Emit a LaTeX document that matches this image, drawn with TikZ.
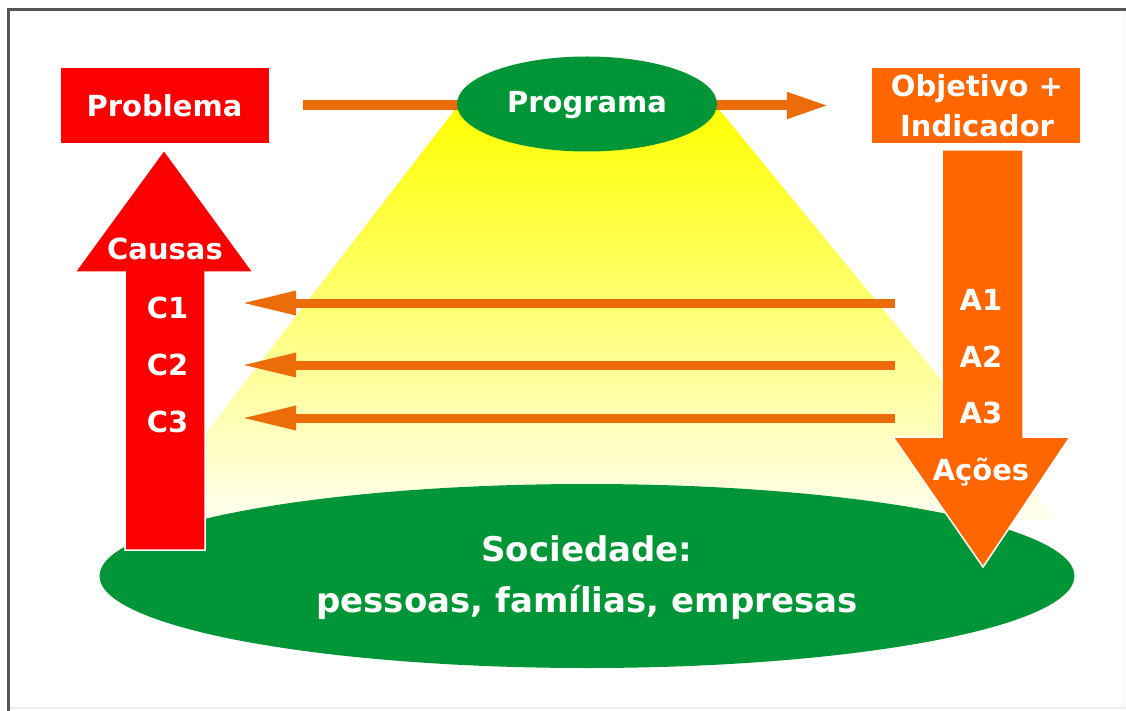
\documentclass[tikz,border=0pt]{standalone}
\usepackage{fontspec}
\setmainfont{DejaVu Sans}
\usetikzlibrary{shapes.geometric,arrows.meta}
\definecolor{pred}{RGB}{250,0,0}
\definecolor{porange}{RGB}{255,102,0}
\definecolor{parrow}{RGB}{236,108,10}
\definecolor{pgreen}{RGB}{0,150,55}
\definecolor{pframe}{RGB}{85,85,85}
\begin{document}
\begin{tikzpicture}[x=1pt,y=-1pt,
  lbl/.style={text=white, font=\bfseries\fontsize{29}{34}\selectfont, anchor=base, inner sep=0pt},
  bigl/.style={lbl, font=\bfseries\fontsize{34}{40}\selectfont},
  box/.style={rectangle, inner sep=0pt, minimum width=208pt, minimum height=75pt},
  blob/.style={ellipse, fill=pgreen, inner sep=0pt},
  flow/.style={draw=parrow, line width=9pt, -{Triangle[length=56pt,width=22pt]}},
  topflow/.style={draw=parrow, line width=10pt, -{Triangle[length=43pt,width=24pt]}},
  bigarrow/.style={draw=white, line width=1.5pt, line join=miter}
]
\useasboundingbox (0,0) rectangle (1126,711);
\fill[white] (0,0) rectangle (1126,711);
% frame
\draw[pframe, line width=3pt] (8,711) -- (8,10) -- (1126,10);
\draw[gray!15, line width=2pt] (10,708) -- (1126,708);
\draw[gray!10, line width=1pt] (1124,12) -- (1124,708);

% light cone
\shade[top color=yellow, middle color=yellow!55, bottom color=yellow!6]
  (457,107) -- (717,107) -- (1056,520) -- (139,520) -- cycle;

% boxes
\node[box, fill=pred] (prob) at (164.5,105.5) {};
\node[box, fill=porange] (obj) at (976,105.5) {};

% top arrow
\draw[topflow] ([xshift=34pt]prob.east) -- ([xshift=-42pt]obj.west);

% ellipses
\node[blob, minimum width=260pt, minimum height=95pt] (prog) at (587,104) {};
\node[blob, minimum width=975pt, minimum height=184pt] (soc) at (587,576) {};

% red arrow (causas)
\filldraw[fill=pred, bigarrow] (125,550) -- (125,272) -- (75,272) -- (164,150)
  -- (253,272) -- (205,272) -- (205,550) -- cycle;
% orange arrow (acoes)
\filldraw[fill=porange, bigarrow] (942,150) -- (1023,150) -- (1023,437) -- (1070,437)
  -- (983,567) -- (893,437) -- (942,437) -- cycle;

% horizontal arrows
\coordinate (a1p) at (895,303);
\coordinate (a2p) at (895,365);
\coordinate (a3p) at (895,418);
\coordinate (c1p) at (240,303);
\coordinate (c2p) at (240,365);
\coordinate (c3p) at (240,418);
\draw[flow] (a1p) -- (c1p);
\draw[flow] (a2p) -- (c2p);
\draw[flow] (a3p) -- (c3p);

% labels
\node[lbl] (probt) at (164.5,117) {Problema};
\node[lbl] (progt) at (587,113) {Programa};
\node[lbl] (objt1) at (977,97) {Objetivo +};
\node[lbl] (objt2) at (977,137) {Indicador};
\node[lbl] (caus) at (165,259) {Causas};
\node[lbl] (c1) at (167.5,318) {C1};
\node[lbl] (c2) at (167.5,375) {C2};
\node[lbl] (c3) at (167.5,432) {C3};
\node[lbl] (a1) at (981,310) {A1};
\node[lbl] (a2) at (981,367) {A2};
\node[lbl] (a3) at (981,423) {A3};
\node[lbl] (acoes) at (981,480) {Ações};
\node[bigl] (soc1) at (587,561) {Sociedade:};
\node[bigl] (soc2) at (587,612) {pessoas, famílias, empresas};
\end{tikzpicture}
\end{document}
